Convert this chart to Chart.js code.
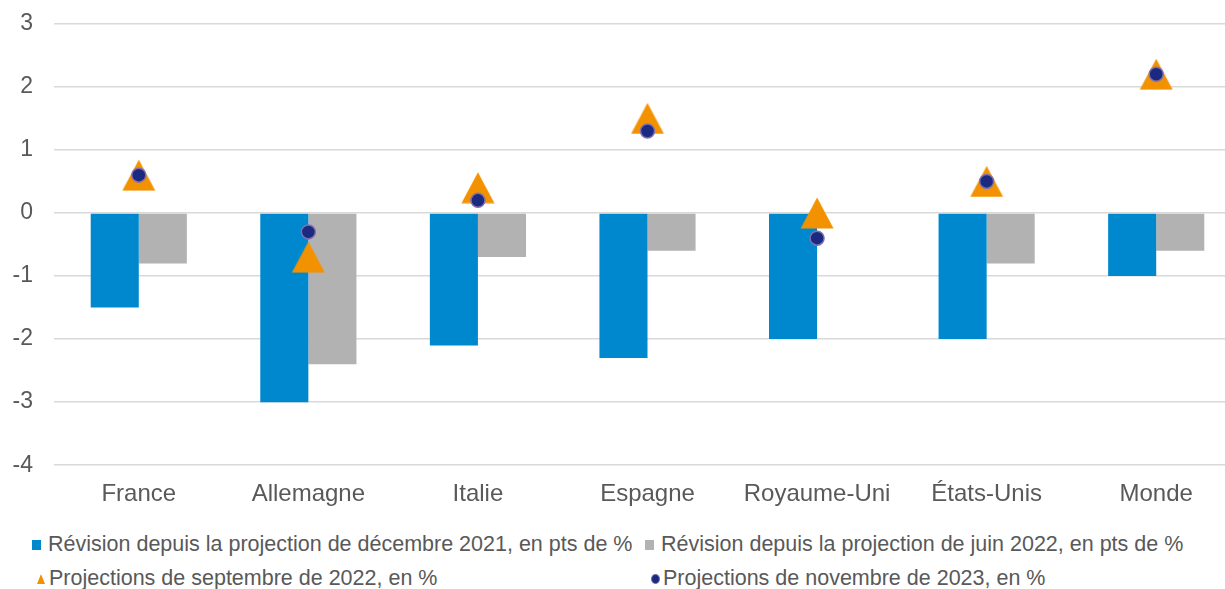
<!DOCTYPE html>
<html>
<head>
<meta charset="utf-8">
<script src="https://cdn.jsdelivr.net/npm/chart.js@4"></script>
<style>
  body { margin: 0; background: #fff; overflow: hidden; width: 1225px; height: 589px; position: relative; }
  #wrap { position: absolute; left: 0; top: -11px; width: 1258px; height: 527px; }
  .legend { position: absolute; font-family: "Liberation Sans", Arial, sans-serif; font-size: 21.5px; color: #595959; white-space: nowrap; }
  .legend span.mk { display: inline-block; vertical-align: middle; margin-right: 7px; }
</style>
</head>
<body>
<div id="wrap"><canvas id="chart" width="1258" height="527"></canvas></div>

<div class="legend" style="left:32px; top:532px;"><span class="mk" style="width:9px;height:10px;background:#0088ce;"></span>Révision depuis la projection de décembre 2021, en pts de %</div>
<div class="legend" style="left:645px; top:532px;"><span class="mk" style="width:9px;height:10px;background:#b2b2b2;"></span>Révision depuis la projection de juin 2022, en pts de %</div>
<div class="legend" style="left:37px; top:566px;"><span class="mk" style="width:0;height:0;border-left:4px solid transparent;border-right:4px solid transparent;border-bottom:10px solid #f39200;margin-right:4px;"></span>Projections de septembre de 2022, en %</div>
<div class="legend" style="left:651px; top:566px;"><span class="mk" style="width:7px;height:8px;border-radius:50%;background:#1b2a80;border:1px solid #7f6fb0;margin-right:3px;"></span>Projections de novembre de 2023, en %</div>

<script>
// Categories and series
const countries = ['France', 'Allemagne', 'Italie', 'Espagne', 'Royaume-Uni', 'États-Unis', 'Monde'];
const revDec2021 = [-1.5, -3.0, -2.1, -2.3, -2.0, -2.0, -1.0];
const revJun2022 = [-0.8, -2.4, -0.7, -0.6, 0, -0.8, -0.6];
const projSep2022 = [0.6, -0.7, 0.4, 1.5, 0.0, 0.5, 2.2];
const projNov2023 = [0.6, -0.3, 0.2, 1.3, -0.4, 0.5, 2.2];
const yTicks = [3, 2, 1, 0, -1, -2, -3, -4];

// Triangle marker drawn on a small canvas so it is centred on the value
const tri = document.createElement('canvas');
tri.width = 34;
tri.height = 32;
const tctx = tri.getContext('2d');
tctx.fillStyle = '#f39200';
tctx.beginPath();
tctx.moveTo(17, 0.5);
tctx.lineTo(33.5, 31.5);
tctx.lineTo(0.5, 31.5);
tctx.closePath();
tctx.fill();

const ctx = document.getElementById('chart').getContext('2d');

const chart = new Chart(ctx, {
    type: 'bar',
    data: {
        labels: countries,
        datasets: [
            {
                type: 'line',
                label: 'Projections de novembre de 2023, en %',
                data: projNov2023,
                showLine: false,
                pointStyle: 'circle',
                pointRadius: 7,
                pointBackgroundColor: '#1b2a80',
                pointBorderColor: '#8070b0',
                pointBorderWidth: 1.5,
                order: 0
            },
            {
                type: 'line',
                label: 'Projections de septembre de 2022, en %',
                data: projSep2022,
                showLine: false,
                pointStyle: tri,
                pointRadius: 16,
                order: 1
            },
            {
                label: 'Révision depuis la projection de décembre 2021, en pts de %',
                data: revDec2021,
                backgroundColor: '#0088ce',
                order: 2
            },
            {
                label: 'Révision depuis la projection de juin 2022, en pts de %',
                data: revJun2022,
                backgroundColor: '#b2b2b2',
                order: 3
            }
        ]
    },
    options: {
        responsive: false,
        animation: false,
        datasets: {
            bar: { barPercentage: 1, categoryPercentage: 0.567 }
        },
        layout: { padding: 0 },
        plugins: {
            legend: { display: false },
            tooltip: { enabled: false }
        },
        scales: {
            x: {
                grid: { display: false },
                border: { display: false },
                ticks: {
                    color: '#595959',
                    padding: 7,
                    font: { family: 'Liberation Sans', size: 24 }
                }
            },
            y: {
                min: -4,
                max: 3,
                afterBuildTicks: (axis) => { axis.ticks = yTicks.map(v => ({ value: v })); },
                afterFit: (axis) => { axis.width = 54; },
                grid: { color: '#d9d9d9', lineWidth: 1.5, drawTicks: false },
                border: { display: false },
                ticks: {
                    color: '#595959',
                    padding: 21,
                    font: { family: 'Liberation Sans', size: 23 }
                }
            }
        }
    }
});
</script>
</body>
</html>
